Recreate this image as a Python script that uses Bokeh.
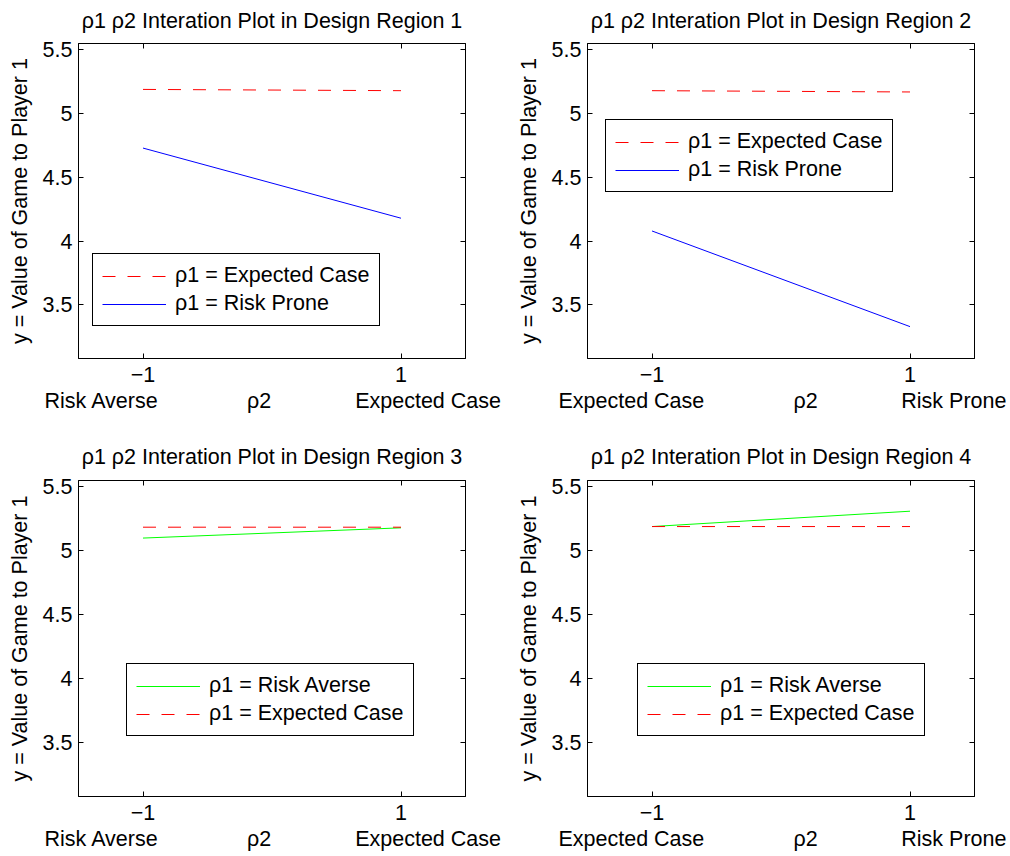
from bokeh.plotting import figure
from bokeh.models import Range1d, FixedTicker, LinearAxis, CustomJSTickFormatter
from bokeh.layouts import column, row
from bokeh.embed import file_html
from bokeh.resources import INLINE

# ---------------- data ----------------
rho2 = [-1, 1]
y_ticks = [3.5, 4, 4.5, 5, 5.5]

titles = [
    "ρ1 ρ2 Interation Plot in Design Region 1",
    "ρ1 ρ2 Interation Plot in Design Region 2",
    "ρ1 ρ2 Interation Plot in Design Region 3",
    "ρ1 ρ2 Interation Plot in Design Region 4",
]

r1_expected = [5.19, 5.18]
r1_prone = [4.73, 4.18]
r2_expected = [5.18, 5.17]
r2_prone = [4.08, 3.33]
r3_averse = [5.10, 5.18]
r3_expected = [5.185, 5.185]
r4_averse = [5.19, 5.31]
r4_expected = [5.19, 5.19]

lab_expected = "ρ1 = Expected Case"
lab_prone = "ρ1 = Risk Prone"
lab_averse = "ρ1 = Risk Averse"

xcat_13 = ["Risk Averse", "ρ2", "Expected Case"]
xcat_24 = ["Expected Case", "ρ2", "Risk Prone"]

# ---------------- styling / layout ----------------
FONT = "Liberation Sans"
FS = "21.5px"
RED, BLUE, GREEN = "#ff0000", "#0000ff", "#00ff00"
DASH = "13 12"

xcat_pos_13 = [-1.32, -0.10, 1.21]
xcat_pos_24 = [-1.16, 0.19, 1.34]


def make_panel(title, series, xcats, xcat_pos, legend_xy, width, height,
               bl, br, bt, bb, title_standoff, title_valign):
    p = figure(width=width, height=height, output_backend="svg",
               toolbar_location=None,
               x_range=Range1d(-1.5, 1.5), y_range=Range1d(3.08, 5.55),
               min_border_left=bl, min_border_right=br,
               min_border_top=bt, min_border_bottom=bb)
    p.grid.visible = False
    p.outline_line_color = "black"
    p.outline_line_width = 1
    p.background_fill_color = "white"
    p.border_fill_color = "white"

    p.title.text = title
    p.title.text_font = FONT
    p.title.text_font_size = FS
    p.title.text_font_style = "normal"
    p.title.text_color = "black"
    p.title.align = "center"
    p.title.standoff = title_standoff
    p.title.vertical_align = title_valign

    for lab, vals, col, dash in series:
        p.line(rho2, vals, line_color=col, line_width=1,
               line_dash=dash, legend_label=lab)

    # main x axis
    xa = p.xaxis[0]
    xa.ticker = FixedTicker(ticks=rho2)
    xa.formatter = CustomJSTickFormatter(
        code="return tick < 0 ? '\u2212' + Math.abs(tick) : String(tick);")
    # y axis
    ya = p.yaxis[0]
    ya.ticker = FixedTicker(ticks=y_ticks)
    ya.axis_label = "y = Value of Game to Player 1"
    ya.axis_label_text_font = FONT
    ya.axis_label_text_font_size = FS
    ya.axis_label_text_font_style = "normal"
    ya.axis_label_text_color = "black"
    ya.axis_label_standoff = 8
    for ax in (xa, ya):
        ax.major_tick_in = 5
        ax.major_tick_out = 0
        ax.minor_tick_line_color = None
        ax.major_label_text_font = FONT
        ax.major_label_text_font_size = FS
        ax.major_label_text_color = "black"
        ax.axis_line_color = "black"
        ax.major_tick_line_color = "black"
    xa.major_label_standoff = 8
    ya.major_label_standoff = 6

    # second row of x labels
    xa2 = LinearAxis(
        ticker=FixedTicker(ticks=xcat_pos),
        formatter=CustomJSTickFormatter(
            args=dict(pos=xcat_pos, labels=xcats),
            code="const i = pos.findIndex(t => Math.abs(t - tick) < 1e-6);"
                 "return i >= 0 ? labels[i] : '';"),
        axis_line_color=None, major_tick_line_color=None,
        minor_tick_line_color=None, major_tick_in=0, major_tick_out=0,
        major_label_standoff=4,
        major_label_text_font=FONT, major_label_text_font_size=FS,
        major_label_text_color="black")
    p.add_layout(xa2, "below")

    # box ticks on top and right (labels not drawn)
    top = LinearAxis(ticker=FixedTicker(ticks=rho2),
                     major_label_text_font_size="0px",
                     major_label_text_color=None,
                     major_tick_in=5, major_tick_out=0,
                     minor_tick_line_color=None, major_label_standoff=0,
                     axis_line_color="black", major_tick_line_color="black")
    p.add_layout(top, "above")
    right = LinearAxis(ticker=FixedTicker(ticks=y_ticks),
                       major_label_text_font_size="0px",
                       major_label_text_color=None,
                       major_tick_in=5, major_tick_out=0,
                       minor_tick_line_color=None, major_label_standoff=0,
                       axis_line_color="black", major_tick_line_color="black")
    p.add_layout(right, "right")

    lg = p.legend[0]
    lg.location = legend_xy
    lg.margin = 0
    lg.padding = 9
    lg.spacing = 3
    lg.glyph_width = 64
    lg.glyph_height = 24
    lg.label_height = 24
    lg.label_standoff = 9
    lg.label_text_font = FONT
    lg.label_text_font_size = FS
    lg.label_text_color = "black"
    lg.border_line_color = "black"
    lg.border_line_width = 1
    lg.border_line_alpha = 1
    lg.background_fill_color = "white"
    lg.background_fill_alpha = 1
    return p


p1 = make_panel(titles[0],
                [(lab_expected, r1_expected, RED, DASH),
                 (lab_prone, r1_prone, BLUE, "solid")],
                xcat_13, xcat_pos_13, (14, 32), 505, 428, 78, 40, 42, 70,
                17, "top")
p2 = make_panel(titles[1],
                [(lab_expected, r2_expected, RED, DASH),
                 (lab_prone, r2_prone, BLUE, "solid")],
                xcat_24, xcat_pos_24, (18, 166), 505, 428, 82, 36, 42, 70,
                17, "top")
p3 = make_panel(titles[2],
                [(lab_averse, r3_averse, GREEN, "solid"),
                 (lab_expected, r3_expected, RED, DASH)],
                xcat_13, xcat_pos_13, (48, 60), 505, 428, 78, 40, 52, 60,
                23, "bottom")
p4 = make_panel(titles[3],
                [(lab_averse, r4_averse, GREEN, "solid"),
                 (lab_expected, r4_expected, RED, DASH)],
                xcat_24, xcat_pos_24, (50, 60), 505, 428, 82, 36, 52, 60,
                23, "bottom")

layout = column(row(p1, p2, spacing=0), row(p3, p4, spacing=0), spacing=0)
open("out.html", "w").write(file_html(layout, INLINE))
